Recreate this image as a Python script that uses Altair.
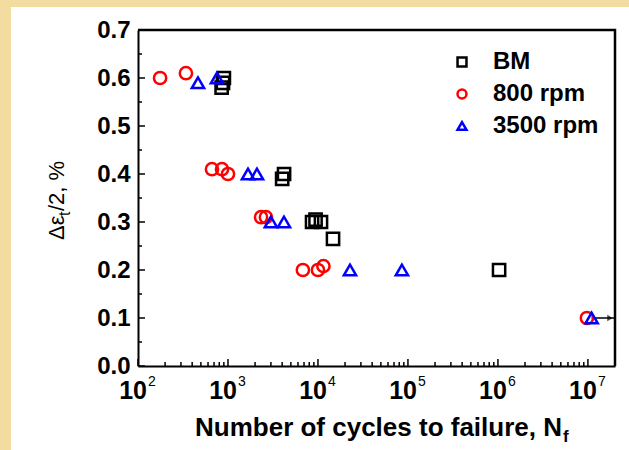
import altair as alt
import pandas as pd

# Strain-controlled fatigue: total strain amplitude (%) vs cycles to failure
bm_cycles = [900, 880, 850, 4200, 4000, 8600, 9400, 10800, 14700, 1.03e6]
bm_amp = [0.60, 0.59, 0.58, 0.40, 0.39, 0.30, 0.305, 0.30, 0.265, 0.20]

rpm800_cycles = [176, 341, 664, 858, 1000, 2330, 2640, 6800, 10000, 11500, 9.75e6]
rpm800_amp = [0.60, 0.61, 0.41, 0.41, 0.40, 0.31, 0.31, 0.20, 0.20, 0.208, 0.10]

rpm3500_cycles = [464, 755, 1670, 2100, 3000, 4190, 22700, 85700, 1.1e7]
rpm3500_amp = [0.59, 0.60, 0.40, 0.40, 0.30, 0.30, 0.20, 0.20, 0.10]

series_names = ["BM", "800 rpm", "3500 rpm"]
series_colors = ["#000000", "#FF0000", "#0000FF"]
series_shapes = ["square", "circle", "triangle-up"]

# run-out specimen (did not fail)
runout_start = [1.1e7]
runout_end = [2e7]
runout_amp = [0.10]

# axis ticks and labels
x_min, x_max = 100, 2e7
y_min, y_max = 0.0, 0.7
decades = [1e2, 1e3, 1e4, 1e5, 1e6, 1e7]
exponents = ["2", "3", "4", "5", "6", "7"]
y_major = [0.0, 0.1, 0.2, 0.3, 0.4, 0.5, 0.6, 0.7]
y_minor = [0.05, 0.15, 0.25, 0.35, 0.45, 0.55, 0.65]
x_minor = [k * d for d in decades[:-1] for k in range(2, 10)]

W, H = 477, 336
FONT = "Liberation Sans"
PAGE = "#F3DCA0"

rows = []
for name, xs, ys in [("BM", bm_cycles, bm_amp),
                     ("800 rpm", rpm800_cycles, rpm800_amp),
                     ("3500 rpm", rpm3500_cycles, rpm3500_amp)]:
    for n, a in zip(xs, ys):
        rows.append({"N": n, "amp": a, "series": name})
df = pd.DataFrame(rows)

xscale = alt.Scale(type="log", domain=[x_min, x_max])
yscale = alt.Scale(domain=[y_min, y_max])

# bottom and left axes: frame lines and y labels
x_axis = alt.Axis(labels=False, ticks=False, grid=False, title=None,
                  domainColor="black", domainWidth=2, zindex=1)
y_axis = alt.Axis(values=y_major, format=".1f", ticks=False, grid=False,
                  title=None, labelFont=FONT, labelFontWeight="bold",
                  labelFontSize=24, labelColor="black", labelPadding=8,
                  domainColor="black", domainWidth=2, zindex=1)


def X(field="N"):
    return alt.X(f"{field}:Q", scale=xscale, axis=x_axis)


def Y(field="amp"):
    return alt.Y(f"{field}:Q", scale=yscale, axis=y_axis)


# page edges around the white panel
one = pd.DataFrame({"k": [0]})
edge_left = alt.Chart(one).mark_rect(color=PAGE).encode(
    x=alt.value(-138), x2=alt.value(-127), y=alt.value(-30), y2=alt.value(H + 84))
edge_top = alt.Chart(one).mark_rect(color=PAGE).encode(
    x=alt.value(-138), x2=alt.value(W + 14), y=alt.value(-30), y2=alt.value(-23))

# top and right sides of the frame as one polyline along the axis limits
frame_df = pd.DataFrame({"N": [x_min, x_max, x_max], "amp": [y_max, y_max, y_min],
                         "order": [0, 1, 2]})
frame = alt.Chart(frame_df).mark_line(color="black", strokeWidth=2.5).encode(
    x=X(), y=Y(), order="order:Q")

# inward tick marks
ymaj = alt.Chart(pd.DataFrame({"amp": y_major})).mark_rule(color="black", strokeWidth=1.5).encode(
    y=Y(), x=alt.value(0), x2=alt.value(7))
ymin_ = alt.Chart(pd.DataFrame({"amp": y_minor})).mark_rule(color="black", strokeWidth=1.5).encode(
    y=Y(), x=alt.value(0), x2=alt.value(4))
xmaj = alt.Chart(pd.DataFrame({"N": decades})).mark_rule(color="black", strokeWidth=1.5).encode(
    x=X(), y=alt.value(H), y2=alt.value(H - 7))
xmin_ = alt.Chart(pd.DataFrame({"N": x_minor})).mark_rule(color="black", strokeWidth=1.5).encode(
    x=X(), y=alt.value(H), y2=alt.value(H - 4))

# decade labels 10^n
lab_df = pd.DataFrame({"N": decades, "exp": exponents})
lab_base = alt.Chart(lab_df).mark_text(
    font=FONT, fontWeight="bold", fontSize=25, color="black",
    align="right", baseline="middle", dx=9).encode(
    x=X(), y=alt.value(H + 25), text=alt.value("10"))
lab_exp = alt.Chart(lab_df).mark_text(
    font=FONT, fontSize=14, color="black",
    align="left", baseline="middle", dx=10).encode(
    x=X(), y=alt.value(H + 16), text="exp:N")

# axis titles with subscripts
xt_main = alt.Chart(one).mark_text(
    font=FONT, fontWeight="bold", fontSize=26, color="black",
    align="right", baseline="alphabetic").encode(
    x=alt.value(424), y=alt.value(H + 70), text=alt.value("Number of cycles to failure, N"))
xt_sub = alt.Chart(one).mark_text(
    font=FONT, fontWeight="bold", fontSize=17, color="black",
    align="left", baseline="alphabetic").encode(
    x=alt.value(425), y=alt.value(H + 76), text=alt.value("f"))

yt_a = alt.Chart(one).mark_text(
    font=FONT, fontSize=22, color="black", angle=270,
    align="left", baseline="middle").encode(
    x=alt.value(-81), y=alt.value(210), text=alt.value("Δε"))
yt_b = alt.Chart(one).mark_text(
    font=FONT, fontSize=16, color="black", angle=270,
    align="left", baseline="middle").encode(
    x=alt.value(-73), y=alt.value(186), text=alt.value("t"))
yt_c = alt.Chart(one).mark_text(
    font=FONT, fontSize=22, color="black", angle=270,
    align="left", baseline="middle").encode(
    x=alt.value(-81), y=alt.value(181), text=alt.value("/2, %"))

# run-out arrow
ro_df = pd.DataFrame({"N": runout_start, "N2": runout_end, "amp": runout_amp})
ro_line = alt.Chart(ro_df).mark_rule(color="black", strokeWidth=1.5).encode(
    x=X(), x2="N2:Q", y=Y())
ro_head = alt.Chart(pd.DataFrame({"N": runout_end, "amp": runout_amp})).mark_point(
    shape="triangle-right", filled=True, color="black", size=40, xOffset=-5).encode(
    x=X(), y=Y())

points = alt.Chart(df).mark_point(filled=False, strokeWidth=2.5, size=150, opacity=1).encode(
    x=X(), y=Y(),
    color=alt.Color("series:N", scale=alt.Scale(domain=series_names, range=series_colors),
                    legend=alt.Legend(
                        title=None, orient="none", legendX=312, legendY=20,
                        labelFont=FONT, labelFontWeight="bold", labelFontSize=24,
                        labelColor="black", symbolSize=80, symbolStrokeWidth=2.5,
                        labelOffset=19, rowPadding=8, padding=0)),
    shape=alt.Shape("series:N", scale=alt.Scale(domain=series_names, range=series_shapes)),
)

chart = alt.layer(
    edge_left, edge_top, frame, ymin_, ymaj, xmin_, xmaj,
    lab_base, lab_exp, xt_main, xt_sub, yt_a, yt_b, yt_c, ro_line, ro_head, points
).properties(
    width=W, height=H,
    autosize=alt.AutoSizeParams(type="none"),
    padding={"left": 138, "top": 30, "right": 14, "bottom": 84},
    background="white",
)

chart.save("out.html", embed_options={"renderer": "svg", "actions": False})
